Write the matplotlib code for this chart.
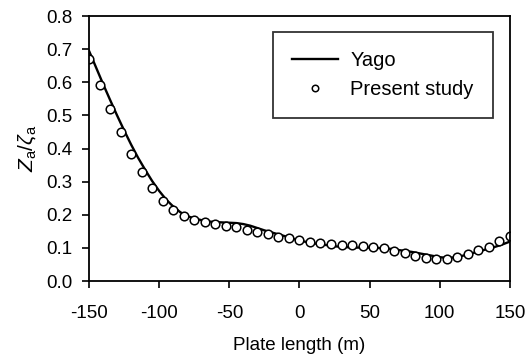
import matplotlib
matplotlib.use("Agg")
import matplotlib.pyplot as plt
import numpy as np

plt.rcParams['font.family'] = ['Liberation Sans', 'DejaVu Sans']
plt.rcParams['mathtext.fontset'] = 'custom'
plt.rcParams['mathtext.rm'] = 'Liberation Sans'
plt.rcParams['mathtext.it'] = 'Liberation Sans:italic'
plt.rcParams['axes.unicode_minus'] = False

# Yago (line)
yago_x = list(range(-150, 151, 5))
yago_y = [0.695, 0.645, 0.595, 0.547, 0.500, 0.455, 0.412, 0.372, 0.336, 0.302,
          0.272, 0.246, 0.225, 0.208, 0.196, 0.189, 0.184, 0.180, 0.178, 0.177,
          0.176, 0.175, 0.172, 0.167, 0.160, 0.153, 0.147, 0.141, 0.135, 0.128,
          0.122, 0.118, 0.114, 0.111, 0.108, 0.105, 0.103, 0.102, 0.101, 0.101,
          0.101, 0.100, 0.099, 0.097, 0.094, 0.091, 0.088, 0.084, 0.080, 0.076,
          0.072, 0.070, 0.071, 0.075, 0.080, 0.086, 0.092, 0.098, 0.104, 0.111,
          0.119]

# Present study (markers)
study_x = [-150 + 7.5 * i for i in range(41)]
study_y = [0.670, 0.592, 0.519, 0.449, 0.385, 0.330, 0.282, 0.243, 0.215, 0.196,
           0.184, 0.177, 0.172, 0.167, 0.162, 0.154, 0.149, 0.141, 0.134, 0.129,
           0.124, 0.119, 0.114, 0.112, 0.110, 0.109, 0.107, 0.104, 0.099, 0.092,
           0.084, 0.076, 0.070, 0.066, 0.066, 0.072, 0.081, 0.094, 0.104, 0.121, 0.136]

x_ticks = [-150, -100, -50, 0, 50, 100, 150]
y_ticks = [0.0, 0.1, 0.2, 0.3, 0.4, 0.5, 0.6, 0.7, 0.8]

fig = plt.figure(figsize=(5.30, 3.58), dpi=100)
ax = fig.add_axes([0.168, 0.215, 0.794, 0.740])

ax.plot(yago_x, yago_y, color='black', lw=1.7, label='Yago')
ax.plot(study_x, study_y, ls='none', marker='o', ms=6.2, mfc='white', mec='black',
        mew=1.1, label='Present study')

ax.set_xlim(-150, 150)
ax.set_ylim(0.0, 0.8)
ax.set_xticks(x_ticks)
ax.set_xticklabels([str(v) for v in x_ticks])
ax.set_yticks(y_ticks)
ax.set_yticklabels([f"{v:.1f}" for v in y_ticks])
ax.tick_params(axis='both', direction='out', length=5, width=1.2, labelsize=13.5, colors='black')
ax.tick_params(axis='x', pad=12)
ax.tick_params(axis='y', pad=7)
for s in ax.spines.values():
    s.set_linewidth(1.3)

ax.set_xlabel('Plate length (m)', fontsize=13.5, labelpad=11)
ax.set_ylabel(r'$Z_{\mathrm{a}}/\zeta_{\mathrm{a}}$', fontsize=15, labelpad=6)

leg = ax.legend(loc='upper right', bbox_to_anchor=(0.9595, 0.94), borderaxespad=0,
                fontsize=14.5, frameon=True, fancybox=False, edgecolor='black',
                handlelength=2.3, handletextpad=0.6, borderpad=0.95, labelspacing=0.5,
                markerscale=0.75)
leg.get_frame().set_linewidth(1.3)

fig.savefig('out.png', dpi=100)
